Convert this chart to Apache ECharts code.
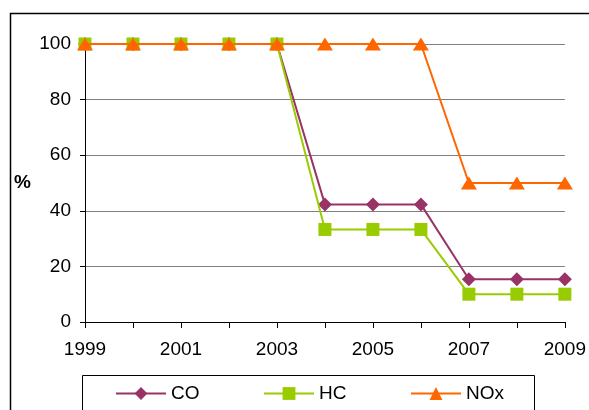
<!DOCTYPE html>
<html>
<head>
<meta charset="utf-8">
<script src="https://cdn.jsdelivr.net/npm/echarts@6/dist/echarts.min.js"></script>
<style>
  html, body { margin: 0; padding: 0; background: #fff; }
  #chart { width: 589px; height: 410px; }
</style>
</head>
<body>
<div id="chart"></div>
<script>
// Emission limits relative to 1999 level (%)
const years = ['1999', '2000', '2001', '2002', '2003', '2004', '2005', '2006', '2007', '2008', '2009'];
const coValues  = [100, 100, 100, 100, 100, 42.3, 42.3, 42.3, 15.4, 15.4, 15.4];
const hcValues  = [100, 100, 100, 100, 100, 33.3, 33.3, 33.3, 10, 10, 10];
const noxValues = [100, 100, 100, 100, 100, 100, 100, 100, 50, 50, 50];
const yTicks = { min: 0, max: 100, step: 20 };

const FONT = 'Liberation Sans, Arial, sans-serif';
const chart = echarts.init(document.getElementById('chart'), null, { renderer: 'canvas' });

function legendFor(name, left) {
  return {
    data: [name],
    left: left,
    top: 384,
    padding: 0,
    itemWidth: 50,
    itemHeight: 16,
    itemGap: 0,
    textStyle: { fontFamily: FONT, fontSize: 19, color: '#000' },
    selectedMode: false
  };
}

chart.setOption({
  animation: false,
  backgroundColor: '#fff',
  textStyle: { fontFamily: FONT },
  grid: { left: 85, right: 23, top: 44, bottom: 88, containLabel: false },
  graphic: [
    { type: 'rect', shape: { x: 10.5, y: 13.5, width: 600, height: 420 }, style: { fill: 'none', stroke: '#000', lineWidth: 1.5 }, z: -1 },
    { type: 'rect', shape: { x: 82.5, y: 375.5, width: 452, height: 60 }, style: { fill: '#fff', stroke: '#000', lineWidth: 1 }, z: -1 },
    { type: 'text', left: 14, top: 173, style: { text: '%', font: 'bold 19px ' + FONT, fill: '#000' } }
  ],
  legend: [
    legendFor('CO', 115),
    legendFor('HC', 263),
    legendFor('NOx', 410)
  ],
  xAxis: {
    type: 'category',
    data: years,
    boundaryGap: false,
    axisLine: { lineStyle: { color: '#000', width: 1 } },
    axisTick: { show: true, interval: 0, length: 6, lineStyle: { color: '#000' } },
    axisLabel: { interval: 1, margin: 18, fontSize: 19, color: '#000', fontFamily: FONT },
    splitLine: { show: false }
  },
  yAxis: {
    type: 'value',
    min: yTicks.min,
    max: yTicks.max,
    interval: yTicks.step,
    axisLine: { show: true, lineStyle: { color: '#000', width: 1 } },
    axisTick: { show: true, length: 5, lineStyle: { color: '#000' } },
    axisLabel: { margin: 14, fontSize: 19, color: '#000', fontFamily: FONT },
    splitLine: { show: true, lineStyle: { color: '#808080', width: 1 } }
  },
  series: [
    {
      name: 'CO', type: 'line', data: coValues,
      symbol: 'diamond', symbolSize: 14,
      lineStyle: { color: '#993366', width: 2 },
      itemStyle: { color: '#993366' },
      z: 2
    },
    {
      name: 'HC', type: 'line', data: hcValues,
      symbol: 'rect', symbolSize: 13,
      lineStyle: { color: '#99CC00', width: 2 },
      itemStyle: { color: '#99CC00' },
      z: 3
    },
    {
      name: 'NOx', type: 'line', data: noxValues,
      symbol: 'triangle', symbolSize: [16, 13],
      lineStyle: { color: '#FF6600', width: 2 },
      itemStyle: { color: '#FF6600' },
      z: 4
    }
  ]
});
</script>
</body>
</html>
